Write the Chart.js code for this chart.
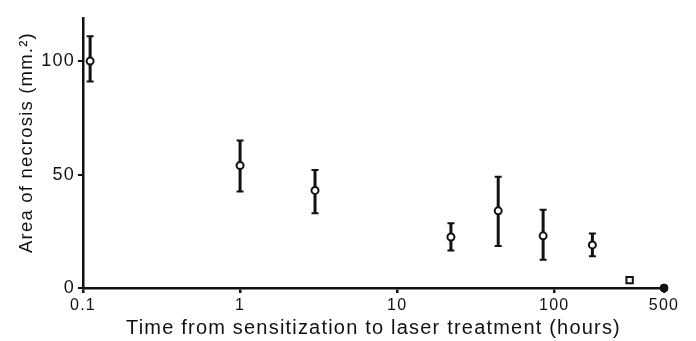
<!DOCTYPE html>
<html>
<head>
<meta charset="utf-8">
<title>Area of necrosis vs time</title>
<script src="https://cdn.jsdelivr.net/npm/chart.js@4.4.1/dist/chart.umd.min.js"></script>
<style>
  html, body { margin: 0; padding: 0; background: #fff; }
  canvas { display: block; }
</style>
</head>
<body>
<canvas id="chart" width="696" height="341"></canvas>
<script>
// ==== DATA ====
const hours = [0.111, 1, 3, 22, 44, 85, 175];
const area = [100, 54, 43, 22.5, 34, 23, 19];
const areaLow = [91, 42.5, 33, 16.5, 18.5, 12.5, 14];
const areaHigh = [111, 65, 52, 28.5, 49, 34.5, 24];

const squareHours = [302];
const squareArea = [3.5];

const endHours = [500];
const endArea = [0];

const xTicks = [0.1, 1, 10, 100, 500];
const yTicks = [0, 50, 100];

const ink = "#111";

function toPoints(xs, ys) {
  return xs.map((x, i) => ({ x, y: ys[i] }));
}

// ==== PLUGINS ====
// wider letter spacing, like the printed figure
const spacing = {
  id: "spacing",
  beforeUpdate(chart) { chart.ctx.letterSpacing = "1.2px"; },
  beforeDraw(chart) { chart.ctx.letterSpacing = "1.2px"; }
};

// vertical error bars with caps, drawn under the points
const errorBars = {
  id: "errorBars",
  beforeDatasetsDraw(chart) {
    const { ctx, scales: { x, y } } = chart;
    ctx.save();
    ctx.strokeStyle = ink;
    hours.forEach((h, i) => {
      const px = x.getPixelForValue(h);
      const top = y.getPixelForValue(areaHigh[i]);
      const bot = y.getPixelForValue(areaLow[i]);
      ctx.lineWidth = 3;
      ctx.beginPath();
      ctx.moveTo(px, top);
      ctx.lineTo(px, bot);
      ctx.stroke();
      ctx.lineWidth = 2;
      ctx.beginPath();
      ctx.moveTo(px - 3.5, top);
      ctx.lineTo(px + 3.5, top);
      ctx.moveTo(px - 3.5, bot);
      ctx.lineTo(px + 3.5, bot);
      ctx.stroke();
    });
    ctx.restore();
  }
};

// ==== CHART ====
new Chart(document.getElementById("chart"), {
  type: "scatter",
  data: {
    datasets: [
      {
        data: toPoints(hours, area),
        pointStyle: "circle",
        radius: 3.5,
        borderWidth: 2,
        borderColor: ink,
        backgroundColor: "#fff",
        clip: false
      },
      {
        data: toPoints(squareHours, squareArea),
        pointStyle: "rect",
        radius: 4.5,
        borderWidth: 2,
        borderColor: ink,
        backgroundColor: "#fff",
        clip: false
      },
      {
        data: toPoints(endHours, endArea),
        pointStyle: "circle",
        radius: 4,
        borderWidth: 1,
        borderColor: ink,
        backgroundColor: ink,
        clip: false
      }
    ]
  },
  options: {
    responsive: false,
    animation: false,
    layout: { padding: { top: 18, right: 32, bottom: 0, left: 0 } },
    plugins: {
      legend: { display: false },
      tooltip: { enabled: false }
    },
    scales: {
      x: {
        type: "logarithmic",
        min: 0.1,
        max: 500,
        afterBuildTicks: s => { s.ticks = xTicks.map(v => ({ value: v })); },
        afterFit: s => { s.height = 53; },
        ticks: {
          color: ink,
          padding: 3,
          maxRotation: 0,
          autoSkip: false,
          font: { family: "'Liberation Sans', Arial, sans-serif", size: 16 },
          callback: v => String(v)
        },
        grid: { drawOnChartArea: false, drawTicks: true, tickLength: 5, lineWidth: 2.5, color: ink },
        border: { display: true, color: ink, width: 2.5 },
        title: {
          display: true,
          text: "Time from sensitization to laser treatment (hours)",
          color: ink,
          padding: { top: 0, bottom: 1 },
          font: { family: "'Liberation Sans', Arial, sans-serif", size: 20 }
        }
      },
      y: {
        min: 0,
        max: 119,
        afterBuildTicks: s => { s.ticks = yTicks.map(v => ({ value: v })); },
        afterFit: s => { s.width = 83; },
        ticks: {
          color: ink,
          padding: 3,
          font: { family: "'Liberation Sans', Arial, sans-serif", size: 18 }
        },
        grid: { drawOnChartArea: false, drawTicks: true, tickLength: 5, lineWidth: 2, color: ink },
        border: { display: true, color: ink, width: 2.5 },
        title: {
          display: true,
          // leading spaces nudge the centred title up a little
          text: "\u2002\u2002Area of necrosis (mm.²)",
          color: ink,
          padding: { top: 16, bottom: 0 },
          font: { family: "'Liberation Sans', Arial, sans-serif", size: 18.5 }
        }
      }
    }
  },
  plugins: [spacing, errorBars]
});
</script>
</body>
</html>
